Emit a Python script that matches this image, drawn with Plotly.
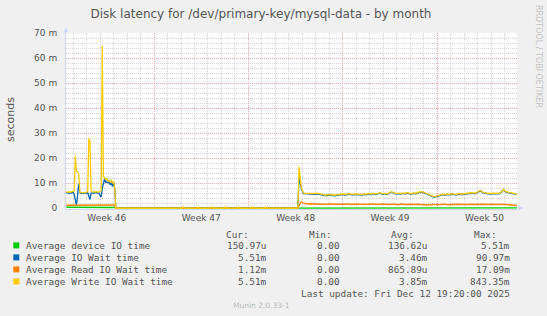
import numpy as np
import plotly.graph_objects as go

# ---------------- data (hours since Mon 2025-11-10 00:00, values in ms) ----------------
hours_s1 = list(range(12, 99, 2))
hours_gap = [100, 218, 220, 222, 244, 246, 248, 269, 271, 273, 293, 295, 297,
             316, 318, 320, 341, 343, 345, 364, 366, 368, 424]
hours_s2 = [426] + list(range(430, 815, 4))
hours = hours_s1 + hours_gap + hours_s2

device_s1 = [0.4, 0.4, 0.35, 0.4, 0.45, 0.4, 0.4, 0.35, 0.4, 0.4,
             0.45, 0.4, 0.4, 0.35, 0.4, 0.4, 0.45, 0.4, 0.4, 0.35,
             0.4, 0.4, 0.4, 0.45, 0.4, 0.35, 0.4, 0.4, 0.4, 0.45,
             0.4, 0.4, 0.35, 0.4, 0.4, 0.45, 0.4, 0.4, 0.35, 0.4,
             0.4, 0.45, 0.4, 0.3]
iowait_s1 = [6.2, 6.0, 6.1, 6.0, 6.2, 6.1, 6.3, 5.5, 3.0, 1.2,
             5.0, 9.9, 6.2, 5.9, 6.0, 5.8, 6.1, 5.9, 6.0, 6.2,
             5.0, 3.5, 6.0, 6.2, 6.0, 6.1, 6.2, 6.3, 6.0, 6.1,
             5.0, 4.5, 8.0, 9.5, 11.8, 10.2, 10.9, 10.0, 10.8, 9.4,
             10.2, 8.8, 10.4, 8.0]
read_s1 = [1.2, 1.2, 1.1, 1.2, 1.3, 1.2, 1.2, 1.1, 1.2, 1.3,
           1.2, 1.1, 1.2, 1.2, 1.1, 1.2, 1.2, 1.3, 1.2, 1.1,
           1.2, 1.2, 1.1, 1.2, 1.2, 1.3, 1.2, 1.2, 1.1, 1.2,
           1.2, 1.3, 1.2, 1.1, 1.2, 1.2, 1.3, 1.2, 1.2, 1.1,
           1.2, 1.2, 1.3, 1.0]
write_s1 = [6.5, 6.6, 6.5, 6.4, 6.6, 6.5, 6.7, 6.8, 20.8, 14.8,
            14.5, 13.8, 6.4, 6.3, 6.2, 6.4, 6.3, 6.2, 6.5, 6.6,
            27.9, 26.5, 7.2, 6.5, 6.6, 6.4, 6.5, 6.7, 6.4, 6.6,
            6.8, 7.0, 64.8, 12.5, 12.3, 11.5, 11.8, 10.6, 11.2, 10.5,
            11.0, 10.2, 10.8, 8.0]

device_gap = [0, 0, 0, 0, 0, 0, 0, 0, 0, 0, 0, 0, 0, 0, 0, 0, 0, 0, 0, 0, 0, 0, 0]
iowait_gap = [0, 0, 0, 0, 0, 0, 0, 0, 0, 0, 0, 0, 0, 0, 0, 0, 0, 0, 0, 0, 0, 0, 0]
read_gap = [0, 0, 0, 0, 0, 0, 0, 0, 0, 0, 0, 0, 0, 0, 0, 0, 0, 0, 0, 0, 0, 0, 0]
write_gap = [0, 0, 0.6, 0, 0, 0.6, 0, 0, 0.5, 0, 0, 0.6, 0, 0, 0.5, 0, 0, 0.6, 0, 0, 0.5, 0, 0]

device_s2 = [0.1, 0.2,
             0.12, 0.1, 0.1, 0.12, 0.1, 0.1, 0.12, 0.1,
             0.1, 0.12, 0.1, 0.1, 0.12, 0.1, 0.1, 0.12, 0.1,
             0.1, 0.12, 0.1, 0.1, 0.12, 0.1, 0.1, 0.12, 0.1, 0.1, 0.12, 0.1,
             0.1, 0.12, 0.1, 0.1, 0.12, 0.1, 0.1, 0.12, 0.1, 0.1,
             0.12, 0.1, 0.1, 0.12, 0.1, 0.1, 0.12, 0.1, 0.1, 0.12, 0.1, 0.1, 0.12,
             0.1, 0.1, 0.12, 0.1, 0.1, 0.12, 0.1, 0.1, 0.12, 0.1,
             0.1, 0.12, 0.1, 0.1, 0.12, 0.1, 0.1, 0.12, 0.1, 0.1, 0.12,
             0.1, 0.1, 0.12, 0.1, 0.1, 0.12, 0.1, 0.1, 0.12, 0.1, 0.1, 0.12, 0.1, 0.1, 0.12,
             0.1, 0.1, 0.12, 0.1, 0.1, 0.12, 0.1, 0.15]
iowait_s2 = [13.0, 7.8,
             5.8, 5.7, 5.6, 5.8, 5.7, 5.6, 5.7, 5.5,
             5.1, 5.2, 5.0, 5.3, 5.1, 5.2, 5.0, 5.3, 5.2,
             5.5, 5.4, 5.3, 5.6, 5.4, 5.3, 5.5, 5.4, 5.6, 5.3, 5.5, 5.4,
             5.7, 5.4, 5.8, 5.5, 5.7, 6.0, 5.6, 5.8, 5.5, 5.9,
             6.4, 6.1, 5.7, 5.8, 5.6, 5.9, 5.7, 6.0, 5.8, 5.6, 5.9, 5.8, 6.1,
             6.4, 6.3, 6.0, 5.6, 5.3, 4.8, 4.4, 4.5, 4.8, 5.1,
             5.4, 5.2, 5.5, 5.3, 5.6, 5.4, 5.3, 5.6, 5.4, 5.5, 5.7,
             5.9, 5.8, 6.0, 5.8, 6.0, 6.7, 6.8, 6.0, 5.8, 5.9, 5.7, 5.8, 5.9, 5.7, 5.8,
             6.4, 7.4, 6.4, 6.1, 6.0, 5.8, 5.6, 5.5]
read_s2 = [1.0, 2.5,
           2.0, 1.8, 1.7, 1.8, 1.7, 1.6, 1.8, 1.7,
           1.6, 1.7, 1.5, 1.7, 1.6, 1.5, 1.7, 1.6, 1.6,
           1.7, 1.5, 1.6, 1.7, 1.5, 1.6, 1.4, 1.6, 1.7, 1.5, 1.6, 1.7,
           1.5, 1.6, 1.7, 1.5, 1.6, 1.4, 1.6, 1.7, 1.5, 1.6,
           1.7, 1.5, 1.6, 1.4, 1.6, 1.7, 1.5, 1.6, 1.4, 1.6, 1.5, 1.7, 1.6,
           1.5, 1.6, 1.4, 1.2, 1.5, 1.3, 1.6, 1.4, 1.5, 1.6,
           1.5, 1.6, 1.4, 1.5, 1.6, 1.4, 1.5, 1.6, 1.5, 1.4, 1.6,
           1.5, 1.6, 1.5, 1.6, 1.4, 1.5, 1.6, 1.5, 1.4, 1.6, 1.5, 1.6, 1.5, 1.4, 1.5,
           1.6, 1.5, 1.6, 1.4, 1.5, 1.3, 1.3, 1.1]
write_s2 = [16.6, 8.2,
            6.1, 6.0, 5.9, 6.1, 6.0, 5.9, 6.0, 5.8,
            5.3, 5.4, 5.2, 5.5, 5.3, 5.4, 5.2, 5.5, 5.4,
            5.7, 5.6, 5.5, 5.8, 5.6, 5.5, 5.7, 5.6, 5.8, 5.5, 5.7, 5.6,
            5.9, 5.6, 6.0, 5.7, 5.9, 6.2, 5.8, 6.0, 5.7, 6.1,
            6.6, 6.3, 5.9, 6.0, 5.8, 6.1, 5.9, 6.2, 6.0, 5.8, 6.1, 6.0, 6.3,
            6.6, 6.5, 6.2, 5.8, 5.5, 5.0, 4.6, 4.7, 5.0, 5.3,
            5.6, 5.4, 5.7, 5.5, 5.8, 5.6, 5.5, 5.8, 5.6, 5.7, 5.9,
            6.1, 6.0, 6.2, 6.0, 6.2, 6.9, 7.0, 6.2, 6.0, 6.1, 5.9, 6.0, 6.1, 5.9, 6.0,
            6.6, 7.6, 6.6, 6.3, 6.2, 6.0, 5.8, 5.5]

series_names = ["Average device IO time", "Average IO Wait time",
                "Average Read IO Wait time", "Average Write IO Wait time"]
series_colors = ["#00CC00", "#0066B3", "#FF8000", "#FFCC00"]
series_ms = [device_s1 + device_gap + device_s2,
             iowait_s1 + iowait_gap + iowait_s2,
             read_s1 + read_gap + read_s2,
             write_s1 + write_gap + write_s2]
cur_vals = ["150.97u", "5.51m", "1.12m", "5.51m"]
min_vals = ["0.00", "0.00", "0.00", "0.00"]
avg_vals = ["136.62u", "3.46m", "865.89u", "3.85m"]
max_vals = ["5.51m", "90.97m", "17.09m", "843.35m"]

week_ticks = [84, 252, 420, 588, 756]
week_labels = ["Week 46", "Week 47", "Week 48", "Week 49", "Week 50"]
week_starts = [168, 336, 504, 672]
y_ticks = [0, 0.01, 0.02, 0.03, 0.04, 0.05, 0.06, 0.07]
y_labels = ["0", "10 m", "20 m", "30 m", "40 m", "50 m", "60 m", "70 m"]

for s in series_ms:
    assert len(s) == len(hours), (len(s), len(hours))

# ---------------- figure ----------------
W, H = 547, 316
ML, MR, MT, MB = 66, 30, 33, 107
PW, PH = W - ML - MR, H - MT - MB
FONT = "DejaVu Sans"
MONO = "DejaVu Sans Mono"
TXT = "#555555"
AXC = "#CFD6F8"


def px(x):
    return (x - ML) / PW


def py(y):
    return (MT + PH - y) / PH


fig = go.Figure()
for name, col, vals in zip(series_names, series_colors, series_ms):
    fig.add_trace(go.Scatter(x=hours, y=np.array(vals, dtype=float) / 1000.0,
                             mode="lines", name=name,
                             line=dict(color=col, width=1.3),
                             hoverinfo="skip", showlegend=False))
fig.add_trace(go.Scatter(x=[], y=[], xaxis="x2", showlegend=False, hoverinfo="skip"))

xr = [11.4, 813.8]
fig.update_layout(
    width=W, height=H,
    margin=dict(l=ML, r=MR, t=MT, b=MB, pad=0),
    paper_bgcolor="#F0F0F0", plot_bgcolor="#FFFFFF",
    font=dict(family=FONT, size=9, color=TXT),
    title=dict(text="Disk latency for /dev/primary-key/mysql-data - by month",
               x=261 / W, xref="container", xanchor="center",
               y=1 - 13.5 / H, yref="container", yanchor="middle",
               font=dict(family=FONT, size=12, color=TXT)),
    xaxis=dict(range=xr, tickmode="array", tickvals=week_starts, showticklabels=False,
               ticks="", showgrid=True, gridcolor="#F2A8A8", griddash="1px,1px", gridwidth=1,
               minor=dict(tick0=0, dtick=24, showgrid=True, gridcolor="#D4D4D4",
                          griddash="1px,1px", ticks=""),
               showline=True, linecolor=AXC, linewidth=1, zeroline=False,
               layer="below traces", fixedrange=True),
    xaxis2=dict(range=xr, overlaying="x", side="bottom", anchor="y",
                tickmode="array", tickvals=week_ticks, ticktext=week_labels,
                showgrid=False, zeroline=False, showline=False, ticks="",
                tickfont=dict(family=FONT, size=9, color=TXT), ticklabelstandoff=2),
    yaxis=dict(range=[-0.0003, 0.07], tickmode="array", tickvals=y_ticks, ticktext=y_labels,
               ticks="", showgrid=True, gridcolor="#F2A8A8", griddash="1px,1px", gridwidth=1,
               minor=dict(tick0=0, dtick=0.002, showgrid=True, gridcolor="#D4D4D4",
                          griddash="1px,1px", ticks=""),
               showline=True, linecolor=AXC, linewidth=1, zeroline=False,
               tickfont=dict(family=FONT, size=9, color=TXT), ticklabelstandoff=6,
               layer="below traces", fixedrange=True),
)

ann = []
shapes = []
# axis arrows
shapes.append(dict(type="path", xref="paper", yref="paper",
                   path=f"M {px(63.5)} {py(32.5)} L {px(68.5)} {py(32.5)} L {px(66)} {py(27)} Z",
                   fillcolor=AXC, line=dict(width=0)))
shapes.append(dict(type="path", xref="paper", yref="paper",
                   path=f"M {px(518)} {py(205.5)} L {px(518)} {py(210.5)} L {px(523.5)} {py(208)} Z",
                   fillcolor=AXC, line=dict(width=0)))

ann.append(dict(text="seconds", x=px(11), y=py(120), xref="paper", yref="paper",
                textangle=-90, showarrow=False, xanchor="center", yanchor="middle",
                font=dict(family=FONT, size=11, color=TXT)))
ann.append(dict(text="RRDTOOL / TOBI OETIKER", x=px(538.5), y=py(56.5), xref="paper", yref="paper",
                textangle=90, showarrow=False, xanchor="center", yanchor="middle",
                font=dict(family=FONT, size=8, color="#C4C4C4")))

MS = 9.4


def txt(t, x, y, anchor, size=MS, color=TXT, family=MONO):
    ann.append(dict(text=t, x=px(x), y=py(y), xref="paper", yref="paper",
                    showarrow=False, xanchor=anchor, yanchor="middle",
                    borderpad=0, borderwidth=0,
                    font=dict(family=family, size=size, color=color)))


txt("Cur:", 248.5, 234, "right")
txt("Min:", 332, 234, "right")
txt("Avg:", 413.5, 234, "right")
txt("Max:", 497, 234, "right")
row_y = [245.7, 257.7, 269.7, 281.7]
for i in range(4):
    y = row_y[i]
    shapes.append(dict(type="rect", xref="paper", yref="paper",
                       x0=px(13.3), x1=px(19.3), y0=py(y - 3.3), y1=py(y + 2.7),
                       fillcolor=series_colors[i], line=dict(width=0)))
    txt(series_names[i], 26, y, "left")
    txt(cur_vals[i], 267, y, "right")
    txt(min_vals[i], 339.5, y, "right")
    txt(avg_vals[i], 427.5, y, "right")
    txt(max_vals[i], 509.5, y, "right")
txt("Last update: Fri Dec 12 19:20:00 2025", 509.5, 293.3, "right")
txt("Munin 2.0.33-1", 261.5, 305, "center", size=7.5, color="#BBBBBB", family=FONT)

fig.update_layout(annotations=ann, shapes=shapes)
fig.write_html("out.html", config=dict(displayModeBar=False))
